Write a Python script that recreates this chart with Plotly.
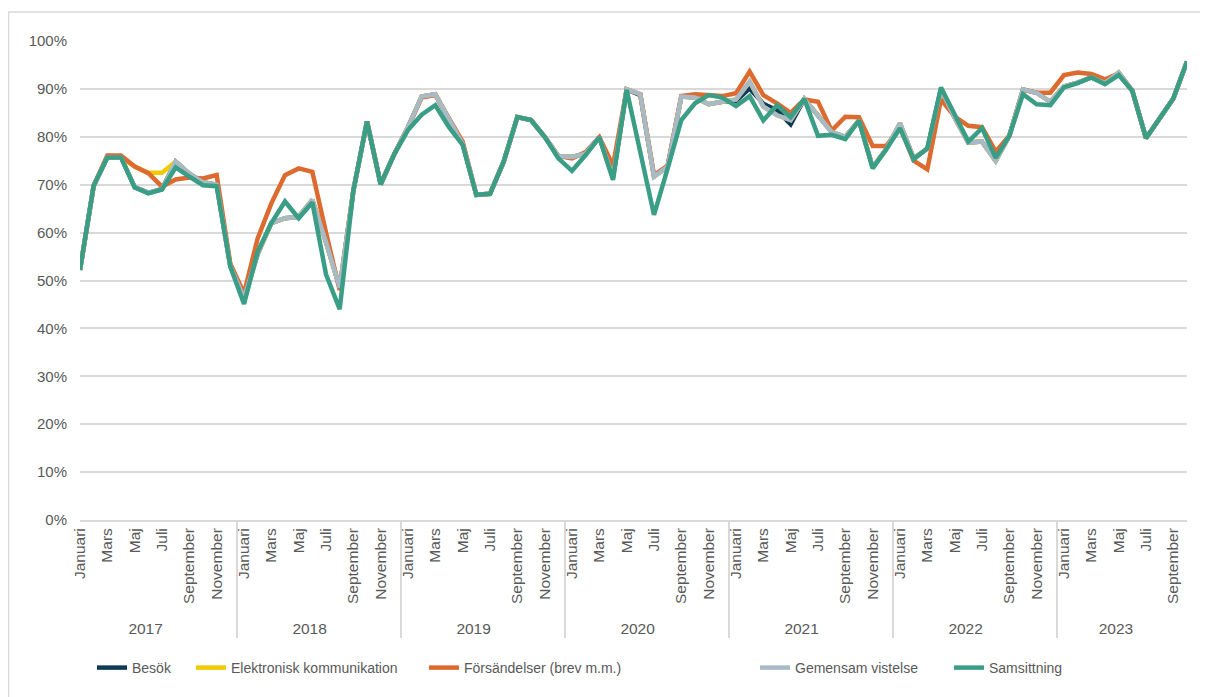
import plotly.graph_objects as go

YEARS = ["2017", "2018", "2019", "2020", "2021", "2022", "2023"]
MONTH_NAMES = ["Januari", "Februari", "Mars", "April", "Maj", "Juni", "Juli",
               "Augusti", "September", "Oktober", "November", "December"]
MONTHS_IN_LAST_YEAR = 10

besok = [
    52.2, 69.8, 75.7, 75.7, 69.5, 68.3, 69.1, 74.8, 72.3, 70.5, 70.0, 53.0,
    46.3, 55.5, 62.0, 63.0, 63.3, 66.8, 58.0, 48.5, 68.7, 83.2, 70.1, 76.4,
    82.0, 88.4, 88.9, 83.5, 78.5, 67.9, 68.1, 74.8, 84.1, 83.5, 80.0, 76.0,
    75.8, 76.5, 79.9, 71.5, 89.9, 88.7, 71.7, 73.8, 88.4, 88.2, 86.8, 87.3,
    87.5, 90.1, 86.9, 85.5, 82.6, 87.9, 84.5, 81.0, 80.0, 83.4, 73.6, 77.5,
    82.8, 75.5, 77.5, 90.0, 84.0, 78.8, 79.0, 75.0, 80.2, 89.9, 89.2, 87.3,
    90.5, 91.3, 92.4, 91.2, 93.4, 89.6, 79.7, 83.9, 88.0, 95.7,
]
elektronisk = [
    52.2, 69.8, 75.7, 75.7, 73.8, 72.5, 72.5, 74.8, 72.3, 70.5, 70.0, 53.0,
    46.3, 55.5, 62.0, 63.0, 63.3, 66.8, 58.0, 48.5, 68.7, 83.2, 70.1, 76.4,
    82.0, 88.4, 88.9, 83.5, 78.5, 67.9, 68.1, 74.8, 84.1, 83.5, 80.0, 76.0,
    75.8, 76.5, 79.9, 71.5, 89.9, 88.9, 71.7, 73.8, 88.4, 88.2, 86.8, 87.3,
    87.8, 91.5, 86.3, 84.5, 83.5, 87.9, 84.5, 81.0, 80.0, 83.4, 73.6, 77.5,
    82.8, 75.5, 77.5, 90.0, 84.0, 78.8, 79.0, 75.0, 80.2, 89.9, 89.2, 87.3,
    90.5, 91.3, 92.4, 91.2, 93.4, 89.6, 79.7, 83.9, 88.0, 95.7,
]
forsandelser = [
    52.2, 69.8, 76.1, 76.1, 73.8, 72.4, 69.6, 71.1, 71.5, 71.3, 72.0, 53.5,
    47.3, 58.8, 66.1, 72.0, 73.4, 72.7, 60.0, 48.0, 68.7, 83.2, 70.1, 76.4,
    82.0, 88.2, 88.7, 84.0, 79.0, 67.9, 68.1, 74.8, 84.1, 83.5, 80.0, 76.0,
    75.5, 76.8, 79.9, 74.0, 89.9, 88.9, 72.0, 74.0, 88.5, 88.9, 88.7, 88.5,
    89.1, 93.6, 88.7, 87.0, 85.0, 87.8, 87.3, 81.3, 84.2, 84.1, 78.1, 78.1,
    82.0, 75.0, 73.2, 87.8, 84.2, 82.3, 82.0, 76.9, 80.2, 89.8, 89.2, 89.2,
    92.9, 93.4, 93.1, 92.0, 93.2, 89.6, 79.7, 83.9, 88.0, 95.7,
]
gemensam = [
    52.2, 69.8, 75.7, 75.7, 69.5, 68.3, 69.1, 74.8, 72.3, 70.5, 70.0, 53.0,
    46.3, 55.5, 62.0, 63.0, 63.3, 66.8, 58.0, 48.5, 68.7, 83.2, 70.1, 76.4,
    82.0, 88.4, 88.9, 83.5, 78.5, 67.9, 68.1, 74.8, 84.1, 83.5, 80.0, 76.0,
    75.8, 76.5, 79.9, 71.5, 89.9, 88.9, 71.7, 73.8, 88.4, 88.2, 86.8, 87.3,
    87.8, 91.5, 86.3, 84.5, 83.5, 87.9, 84.5, 81.0, 80.0, 83.4, 73.6, 77.5,
    82.8, 75.5, 77.5, 90.0, 84.0, 78.8, 79.0, 75.0, 80.2, 89.9, 89.2, 87.3,
    90.5, 91.3, 92.4, 91.2, 93.4, 89.6, 79.7, 83.9, 88.0, 95.7,
]
samsittning = [
    52.2, 69.8, 75.7, 75.7, 69.4, 68.2, 69.0, 73.6, 71.7, 69.9, 69.7, 52.9,
    45.1, 56.0, 62.0, 66.5, 63.0, 66.3, 51.3, 44.0, 68.7, 83.2, 70.1, 76.4,
    81.4, 84.6, 86.6, 82.0, 78.3, 67.9, 68.1, 74.8, 84.1, 83.5, 80.0, 75.5,
    72.9, 76.2, 79.9, 71.0, 89.8, 76.8, 63.7, 73.4, 83.5, 87.0, 88.7, 88.2,
    86.4, 88.5, 83.4, 86.6, 84.1, 87.9, 80.2, 80.4, 79.5, 83.4, 73.4, 77.4,
    81.8, 75.3, 77.6, 90.3, 84.5, 79.0, 81.8, 75.6, 80.2, 88.9, 86.8, 86.6,
    90.3, 91.2, 92.4, 91.0, 92.9, 89.6, 79.7, 83.9, 88.0, 95.7,
]

SERIES = [
    ("Besök", besok, "#0E3A57"),
    ("Elektronisk kommunikation", elektronisk, "#F2CA00"),
    ("Försändelser (brev m.m.)", forsandelser, "#DD6A2E"),
    ("Gemensam vistelse", gemensam, "#A9BAC7"),
    ("Samsittning", samsittning, "#3A9E86"),
]

# Two-level category axis: year / month (every other month labelled, others blank)
x_years, x_months = [], []
for yi, yr in enumerate(YEARS):
    n = MONTHS_IN_LAST_YEAR if yi == len(YEARS) - 1 else 12
    for m in range(n):
        x_years.append(yr)
        label = MONTH_NAMES[m] if m % 2 == 0 else "\u200b" * (m + 1)
        x_months.append(label)

FONT = "Liberation Sans, Arial, sans-serif"
TXT = "#595959"
GRID = "#D9D9D9"

# page offset of the figure inside the html body
OFF = 8
W, H = 1200, 689
L, R, T, B = 72, 21, 33, 177
pw, ph = W - L - R, H - T - B


def px2paper_x(page_x):
    return (page_x - OFF - L) / pw


def px2paper_y(page_y):
    return (H - B - (page_y - OFF)) / ph


# legend entries: page x where each legend box starts
LEGEND_X = [92, 191, 424, 755, 949]
LEGEND_Y = 668

fig = go.Figure()
legend_layout = {}
for i, (name, vals, col) in enumerate(SERIES):
    lid = "legend" if i == 0 else f"legend{i + 1}"
    fig.add_trace(go.Scatter(
        x=[x_years, x_months], y=vals, name=name, mode="lines",
        line=dict(color=col, width=4.5), hoverinfo="y+name",
        legend=lid,
    ))
    legend_layout[lid] = dict(
        orientation="h", x=px2paper_x(LEGEND_X[i]), xanchor="left",
        y=px2paper_y(LEGEND_Y), yanchor="middle",
        font=dict(size=14, color=TXT, family=FONT),
        bgcolor="rgba(0,0,0,0)", borderwidth=0,
    )

fig.update_layout(
    width=W, height=H,
    margin=dict(l=L, r=R, t=T, b=B, pad=0),
    paper_bgcolor="white", plot_bgcolor="white",
    font=dict(family=FONT, color=TXT, size=14),
    showlegend=True,
    xaxis=dict(
        type="multicategory",
        tickangle=-90,
        showgrid=False,
        showline=True, linecolor=GRID, linewidth=2,
        showdividers=True, dividercolor=GRID, dividerwidth=2,
        tickfont=dict(size=15.5, color=TXT, family=FONT),
        ticks="",
    ),
    yaxis=dict(
        range=[0, 100], tickmode="linear", tick0=0, dtick=10,
        ticksuffix="%", showgrid=True, gridcolor=GRID, gridwidth=2,
        zeroline=False, showline=False,
        tickfont=dict(size=15, color=TXT, family=FONT),
        ticklabelstandoff=12,
    ),
    shapes=[dict(
        type="rect", xref="paper", yref="paper",
        x0=px2paper_x(8.5), x1=px2paper_x(1207),
        y0=px2paper_y(740), y1=px2paper_y(12),
        line=dict(color="#D9D9D9", width=1.5), fillcolor="rgba(0,0,0,0)",
        layer="below",
    )],
    **legend_layout,
)

fig.write_html("out.html")
